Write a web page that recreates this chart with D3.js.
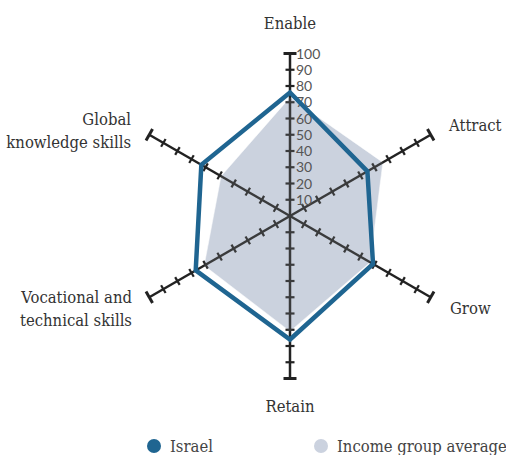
<!DOCTYPE html>
<html>
<head>
<meta charset="utf-8">
<script src="https://cdn.jsdelivr.net/npm/d3@7"></script>
<style>
  body { margin: 0; background: #fff; }
  svg { display: block; }
</style>
</head>
<body>
<div id="chart"></div>
<script>
const WIDTH = 506;
const HEIGHT = 455;
const CENTER = { x: 290, y: 216 };
const RADIUS = 162.5;

// data
const axes = ["Enable", "Attract", "Grow", "Retain", "Vocational and technical skills", "Global knowledge skills"];
const israel = [76, 55, 59, 76, 67, 63];
const incomeAvg = [73, 66, 57, 71, 61, 49];
const tickValues = [10, 20, 30, 40, 50, 60, 70, 80, 90, 100];
const seriesNames = ["Israel", "Income group average"];

const FONT = "'DejaVu Serif Condensed', 'DejaVu Serif', serif";
const TICK_FONT = "Lato, 'Open Sans', sans-serif";

const svg = d3.select("#chart").append("svg")
  .attr("width", WIDTH)
  .attr("height", HEIGHT);

const r = d3.scaleLinear().domain([0, 100]).range([0, RADIUS]);
const angle = d3.scalePoint()
  .domain(axes)
  .range([-Math.PI / 2, -Math.PI / 2 + 2 * Math.PI * 5 / 6]);

const g = svg.append("g")
  .attr("transform", `translate(${CENTER.x}, ${CENTER.y})`);

const radial = d3.lineRadial()
  .angle((d, i) => angle(axes[i]) + Math.PI / 2)
  .radius(d => r(d))
  .curve(d3.curveLinearClosed);

// income group area
g.append("path")
  .datum(incomeAvg)
  .attr("d", radial)
  .attr("fill", "#cbd2df")
  .attr("stroke", "#fff")
  .attr("stroke-opacity", 0.6)
  .attr("stroke-width", 1);

// axes
const axisG = g.selectAll(".axis")
  .data(axes)
  .join("g")
  .attr("class", "axis")
  .attr("transform", d => `rotate(${angle(d) * 180 / Math.PI})`);

axisG.append("line")
  .attr("x1", 0).attr("y1", 0)
  .attr("x2", r(100)).attr("y2", 0)
  .attr("stroke", "#222")
  .attr("stroke-width", 2.5);

axisG.selectAll(".tick")
  .data(tickValues)
  .join("line")
  .attr("class", "tick")
  .attr("x1", d => r(d)).attr("x2", d => r(d))
  .attr("y1", d => d === 100 ? -6.5 : -4.5)
  .attr("y2", d => d === 100 ? 6.5 : 4.5)
  .attr("stroke", "#222")
  .attr("stroke-width", d => d === 100 ? 3 : 2.2);

// light veil of the area over axes
g.append("path")
  .datum(incomeAvg)
  .attr("d", radial)
  .attr("fill", "#cbd2df")
  .attr("fill-opacity", 0.14);

// tick labels on the Enable axis
g.selectAll(".tlabel")
  .data(tickValues)
  .join("text")
  .attr("class", "tlabel")
  .attr("x", 6)
  .attr("y", d => -r(d))
  .attr("dy", "0.36em")
  .attr("font-family", TICK_FONT)
  .attr("font-size", 14)
  .attr("fill", "#555")
  .text(d => d);

// Israel line
g.append("path")
  .datum(israel)
  .attr("d", radial)
  .attr("fill", "none")
  .attr("stroke", "#1f6591")
  .attr("stroke-width", 4.5)
  .attr("stroke-linejoin", "miter");

// axis labels
const labelPos = [
  { x: 290, y: 29, anchor: "middle" },
  { x: 449, y: 131, anchor: "start" },
  { x: 450, y: 314, anchor: "start" },
  { x: 290, y: 412, anchor: "middle" },
  { x: 132, y: 303, anchor: "end" },
  { x: 131, y: 125, anchor: "end" }
];
const labelLines = [
  ["Enable"], ["Attract"], ["Grow"], ["Retain"],
  ["Vocational and", "technical skills"],
  ["Global", "knowledge skills"]
];

labelLines.forEach((lines, i) => {
  const t = svg.append("text")
    .attr("x", labelPos[i].x)
    .attr("y", labelPos[i].y)
    .attr("text-anchor", labelPos[i].anchor)
    .attr("font-family", FONT)
    .attr("font-size", 16.5)
    .attr("fill", "#333");
  lines.forEach((l, j) => {
    t.append("tspan")
      .attr("x", labelPos[i].x)
      .attr("dy", j === 0 ? 0 : 22.5)
      .text(l);
  });
});

// legend
const color = d3.scaleOrdinal().domain(seriesNames).range(["#1f6591", "#cbd2df"]);
const leg = svg.selectAll(".leg")
  .data(seriesNames)
  .join("g")
  .attr("class", "leg")
  .attr("transform", (d, i) => `translate(${154 + i * 167}, 446)`);

leg.append("circle")
  .attr("r", 7)
  .attr("fill", d => color(d));

leg.append("text")
  .attr("x", 16)
  .attr("y", 6)
  .attr("font-family", FONT)
  .attr("font-size", 16.5)
  .attr("fill", "#444")
  .text(d => d);
</script>
</body>
</html>
